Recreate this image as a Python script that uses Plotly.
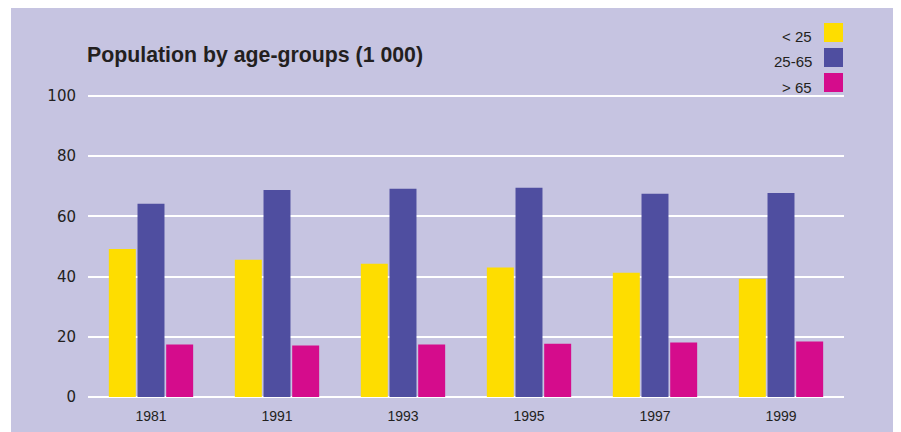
import plotly.graph_objects as go

years = ["1981", "1991", "1993", "1995", "1997", "1999"]
series_names = ["< 25", "25-65", "> 65"]
under_25 = [49.2, 45.6, 44.3, 43.0, 41.3, 39.3]
age_25_65 = [64.2, 68.8, 69.2, 69.5, 67.5, 67.8]
over_65 = [17.4, 17.1, 17.4, 17.7, 18.1, 18.4]
y_ticks = [0, 20, 40, 60, 80, 100]
title_text = "Population by age-groups (1 000)"

colors = ["#FEDD00", "#4F4EA0", "#D50C8C"]
BG = "#C6C4E1"
TXT = "#231F20"

# page body has an 8px margin; the figure is sized so that it fills the 901x432 window
OFF = 8
W, H = 901 - OFF, 432 - OFF
L, R, T, B = 80, 57, 85, 32
PW, PH = W - L - R, H - T - B
Y0, Y1 = -1, 101


def px_x(sx):
    return (sx - OFF - L) / PW


def px_y(sy):
    return (H - B - (sy - OFF)) / PH


fig = go.Figure()
for name, vals, col in zip(series_names, [under_25, age_25_65, over_65], colors):
    fig.add_trace(go.Bar(x=years, y=vals, name=name, marker=dict(color=col, line=dict(width=0)),
                         showlegend=False))

shapes = [dict(type="rect", xref="paper", yref="paper", layer="below",
               x0=px_x(11), x1=px_x(912), y0=px_y(445), y1=px_y(0),
               fillcolor=BG, line=dict(width=0))]
annotations = [dict(text="<b>" + title_text + "</b>", xref="paper", yref="paper",
                    x=px_x(85), y=px_y(55), xanchor="left", yanchor="middle", showarrow=False,
                    font=dict(family="Liberation Sans, Arial, sans-serif", size=21.3, color=TXT))]
box_tops = [23, 48, 73]
for name, col, top in zip(series_names, colors, box_tops):
    shapes.append(dict(type="rect", xref="paper", yref="paper",
                       x0=px_x(824), x1=px_x(843), y0=px_y(top + 19), y1=px_y(top),
                       fillcolor=col, line=dict(width=0)))
    annotations.append(dict(text=name, xref="paper", yref="paper", x=px_x(814), y=px_y(top + 14),
                            xanchor="right", yanchor="middle", showarrow=False,
                            font=dict(family="Liberation Sans, Arial, sans-serif", size=15, color=TXT)))

fig.update_layout(
    width=W, height=H,
    margin=dict(l=L, r=R, t=T, b=B, pad=0, autoexpand=False),
    paper_bgcolor="white",
    plot_bgcolor=BG,
    barmode="group",
    bargap=0.317,
    bargroupgap=0.06,
    shapes=shapes,
    annotations=annotations,
    xaxis=dict(showgrid=False, zeroline=False, showline=False, ticks="", automargin=False,
               range=[-0.5, 5.5], ticklabelstandoff=6,
               tickfont=dict(family="Liberation Sans, Arial, sans-serif", size=14, color=TXT)),
    yaxis=dict(range=[Y0, Y1], tickvals=y_ticks, showgrid=True, gridcolor="white", gridwidth=2,
               zeroline=False, showline=False, ticks="", ticklabelstandoff=11, automargin=False,
               tickfont=dict(family="DejaVu Sans, Verdana, sans-serif", size=15, color=TXT)),
)

fig.write_html("out.html")
